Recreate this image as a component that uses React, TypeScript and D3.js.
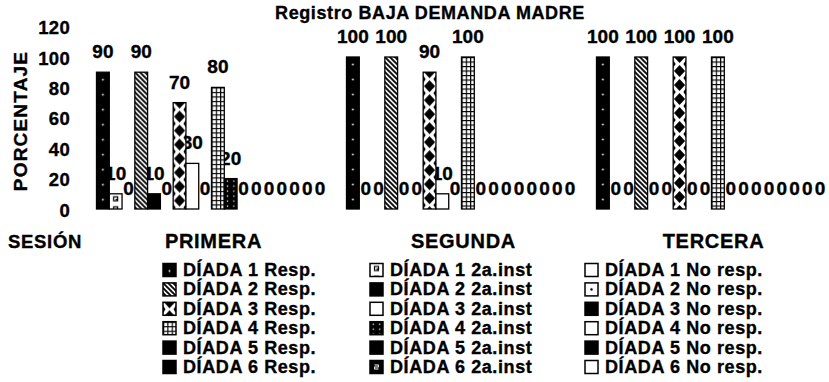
import React from "react";
import * as d3 from "d3";

const sessions = ["PRIMERA", "SEGUNDA", "TERCERA"];
const seriesNames = [
  "DÍADA 1 Resp.", "DÍADA 1 2a.inst", "DÍADA 1 No resp.",
  "DÍADA 2 Resp.", "DÍADA 2 2a.inst", "DÍADA 2 No resp.",
  "DÍADA 3 Resp.", "DÍADA 3 2a.inst", "DÍADA 3 No resp.",
  "DÍADA 4 Resp.", "DÍADA 4 2a.inst", "DÍADA 4 No resp.",
  "DÍADA 5 Resp.", "DÍADA 5 2a.inst", "DÍADA 5 No resp.",
  "DÍADA 6 Resp.", "DÍADA 6 2a.inst", "DÍADA 6 No resp.",
];
const primera = [90, 10, 0, 90, 10, 0, 70, 30, 0, 80, 20, 0, 0, 0, 0, 0, 0, 0];
const segunda = [100, 0, 0, 100, 0, 0, 90, 10, 0, 100, 0, 0, 0, 0, 0, 0, 0, 0];
const tercera = [100, 0, 0, 100, 0, 0, 100, 0, 0, 100, 0, 0, 0, 0, 0, 0, 0, 0];
const yTicks = [0, 20, 40, 60, 80, 100, 120];
const fills = [
  "blackDots", "whiteMarks", "white",
  "hatch", "black", "whiteDot",
  "diamond", "white", "black",
  "grid", "blackDense", "white",
  "black", "black", "black",
  "black", "blackMark", "white",
];

const FONT = "'Liberation Sans', Arial, Helvetica, sans-serif";
const TS = { stroke: "#000", strokeWidth: 0.35 };

function PatternDef({ id, kind, x, y, bw }: { id: string; kind: string; x: number; y: number; bw: number }) {
  if (kind === "blackDots") {
    return (
      <pattern id={id} patternUnits="userSpaceOnUse" x={x} y={y} width={bw} height={15}>
        <rect width={bw} height={15} fill="#000" />
        <circle cx={bw / 2} cy={7.5} r={0.9} fill="#fff" />
      </pattern>
    );
  }
  if (kind === "whiteMarks") {
    return (
      <pattern id={id} patternUnits="userSpaceOnUse" x={x} y={y} width={bw} height={10}>
        <rect width={bw} height={10} fill="#fff" />
        <rect x={bw / 2 - 2} y={3} width={4} height={4} fill="none" stroke="#000" strokeWidth={1.2} />
        <rect x={bw / 2} y={5} width={1.5} height={1.5} fill="#000" />
      </pattern>
    );
  }
  if (kind === "whiteDot") {
    return (
      <pattern id={id} patternUnits="userSpaceOnUse" x={x} y={y} width={bw} height={bw}>
        <rect width={bw} height={bw} fill="#fff" />
        <circle cx={bw / 2} cy={bw / 2} r={1.2} fill="#000" />
      </pattern>
    );
  }
  if (kind === "hatch") {
    return (
      <pattern id={id} patternUnits="userSpaceOnUse" x={x} y={y} width={5} height={5}>
        <rect width={5} height={5} fill="#fff" />
        <path d="M-1,-1 L6,6 M-1,4 L1,6 M4,-1 L6,1" stroke="#000" strokeWidth={1.9} />
      </pattern>
    );
  }
  if (kind === "diamond") {
    const h = 14;
    const c = bw / 2;
    return (
      <pattern id={id} patternUnits="userSpaceOnUse" x={x} y={y} width={bw} height={h}>
        <rect width={bw} height={h} fill="#fff" />
        <polygon points={`${c - 5.5},0 ${c},-6 ${c + 5.5},0 ${c},6`} fill="#000" />
        <polygon points={`${c - 5.5},${h} ${c},${h - 6} ${c + 5.5},${h} ${c},${h + 6}`} fill="#000" />
        <polygon points={`0,3 2.5,7 0,11`} fill="#000" />
        <polygon points={`${bw},3 ${bw - 2.5},7 ${bw},11`} fill="#000" />
      </pattern>
    );
  }
  if (kind === "grid") {
    const w = bw / 3;
    return (
      <pattern id={id} patternUnits="userSpaceOnUse" x={x} y={y} width={w} height={4.5}>
        <rect width={w} height={4.5} fill="#fff" />
        <path d={`M0.5,0 V4.5 M0,0.5 H${w}`} stroke="#000" strokeWidth={1.3} />
      </pattern>
    );
  }
  if (kind === "blackDense") {
    const w = bw / 2;
    return (
      <pattern id={id} patternUnits="userSpaceOnUse" x={x} y={y} width={w} height={5}>
        <rect width={w} height={5} fill="#000" />
        <circle cx={w / 2} cy={2.5} r={0.75} fill="#fff" />
      </pattern>
    );
  }
  if (kind === "blackMark") {
    return (
      <pattern id={id} patternUnits="userSpaceOnUse" x={x} y={y} width={bw} height={bw}>
        <rect width={bw} height={bw} fill="#000" />
        <path d={`M${bw / 2 - 2},${bw / 2 - 2} h4 v2 h-4 v2 h4`} stroke="#fff" strokeWidth={1} fill="none" />
      </pattern>
    );
  }
  return null;
}

function fillFor(kind: string, id: string) {
  if (kind === "black") return "#000";
  if (kind === "white") return "#fff";
  return `url(#${id})`;
}

export default function App() {
  const width = 829;
  const height = 382;
  const values = [primera, segunda, tercera];

  const x0 = d3.scaleBand<string>().domain(sessions).range([86.5, 836.5]).paddingInner(0.08).paddingOuter(0.04);
  const x1 = d3.scaleBand<number>().domain(d3.range(seriesNames.length)).range([0, x0.bandwidth()]).padding(0);
  const y = d3.scaleLinear().domain([0, 120]).range([209, 26.6]);
  const bw = x1.bandwidth();

  const bars = sessions.flatMap((s, g) =>
    values[g].map((v, i) => ({ s, g, i, v, x: (x0(s) as number) + (x1(i) as number) }))
  );

  const legendColX = [163, 370, 585];
  const legendRowY = (r: number) => 270 + r * 19.4;
  const swatch = 13;

  return (
    <svg width={width} height={height} style={{ position: "absolute", left: 0, top: 0 }} fontFamily={FONT} fontWeight="bold">
      <defs>
        {bars
          .filter((b) => fills[b.i] !== "black" && fills[b.i] !== "white" && b.v > 0)
          .map((b) => (
            <PatternDef key={`p-${b.g}-${b.i}`} id={`p-${b.g}-${b.i}`} kind={fills[b.i]} x={b.x} y={y(b.v)} bw={bw} />
          ))}
        {seriesNames.map((n, i) => {
          const col = i % 3;
          const row = Math.floor(i / 3);
          const lx = legendColX[col];
          const ly = legendRowY(row) - swatch / 2;
          return <PatternDef key={`l-${i}`} id={`l-${i}`} kind={fills[i]} x={lx} y={ly} bw={swatch} />;
        })}
      </defs>

      <rect width={width} height={height} fill="#fff" />

      <text x={430} y={19} textAnchor="middle" fontSize={18} letterSpacing={0.6} {...TS}>
        Registro BAJA DEMANDA MADRE
      </text>

      {yTicks.map((t) => (
        <text key={t} x={70} y={y(t) + 1} textAnchor="end" dominantBaseline="central" fontSize={18.5} letterSpacing={0.3} {...TS}>
          {t}
        </text>
      ))}

      <text transform="translate(27,121) rotate(-90)" textAnchor="middle" fontSize={19} letterSpacing={1.2} {...TS}>
        PORCENTAJE
      </text>
      <text x={8} y={248} fontSize={18.5} letterSpacing={0.7} {...TS}>SESIÓN</text>

      {sessions.map((s) => (
        <text key={s} x={(x0(s) as number) + x0.bandwidth() / 2 + 2} y={248} textAnchor="middle" fontSize={20} letterSpacing={0.7} {...TS}>
          {s}
        </text>
      ))}

      {bars.map((b) => (
        <text key={`t-${b.g}-${b.i}`} x={b.x + bw / 2} y={y(b.v) - 14} textAnchor="middle" fontSize={19} {...TS}>
          {b.v}
        </text>
      ))}

      {bars
        .filter((b) => b.v > 0)
        .map((b) => (
          <rect
            key={`r-${b.g}-${b.i}`}
            x={b.x}
            y={y(b.v)}
            width={bw}
            height={y(0) - y(b.v)}
            fill={fillFor(fills[b.i], `p-${b.g}-${b.i}`)}
            stroke="#000"
            strokeWidth={1.3}
          />
        ))}

      {seriesNames.map((n, i) => {
        const col = i % 3;
        const row = Math.floor(i / 3);
        const lx = legendColX[col];
        const cy = legendRowY(row);
        return (
          <g key={`lg-${i}`}>
            <rect x={lx} y={cy - swatch / 2} width={swatch} height={swatch} fill={fillFor(fills[i], `l-${i}`)} stroke="#000" strokeWidth={1.5} />
            <text x={lx + 20} y={cy} dominantBaseline="central" fontSize={18} letterSpacing={0.6} {...TS}>
              {n}
            </text>
          </g>
        );
      })}
    </svg>
  );
}
